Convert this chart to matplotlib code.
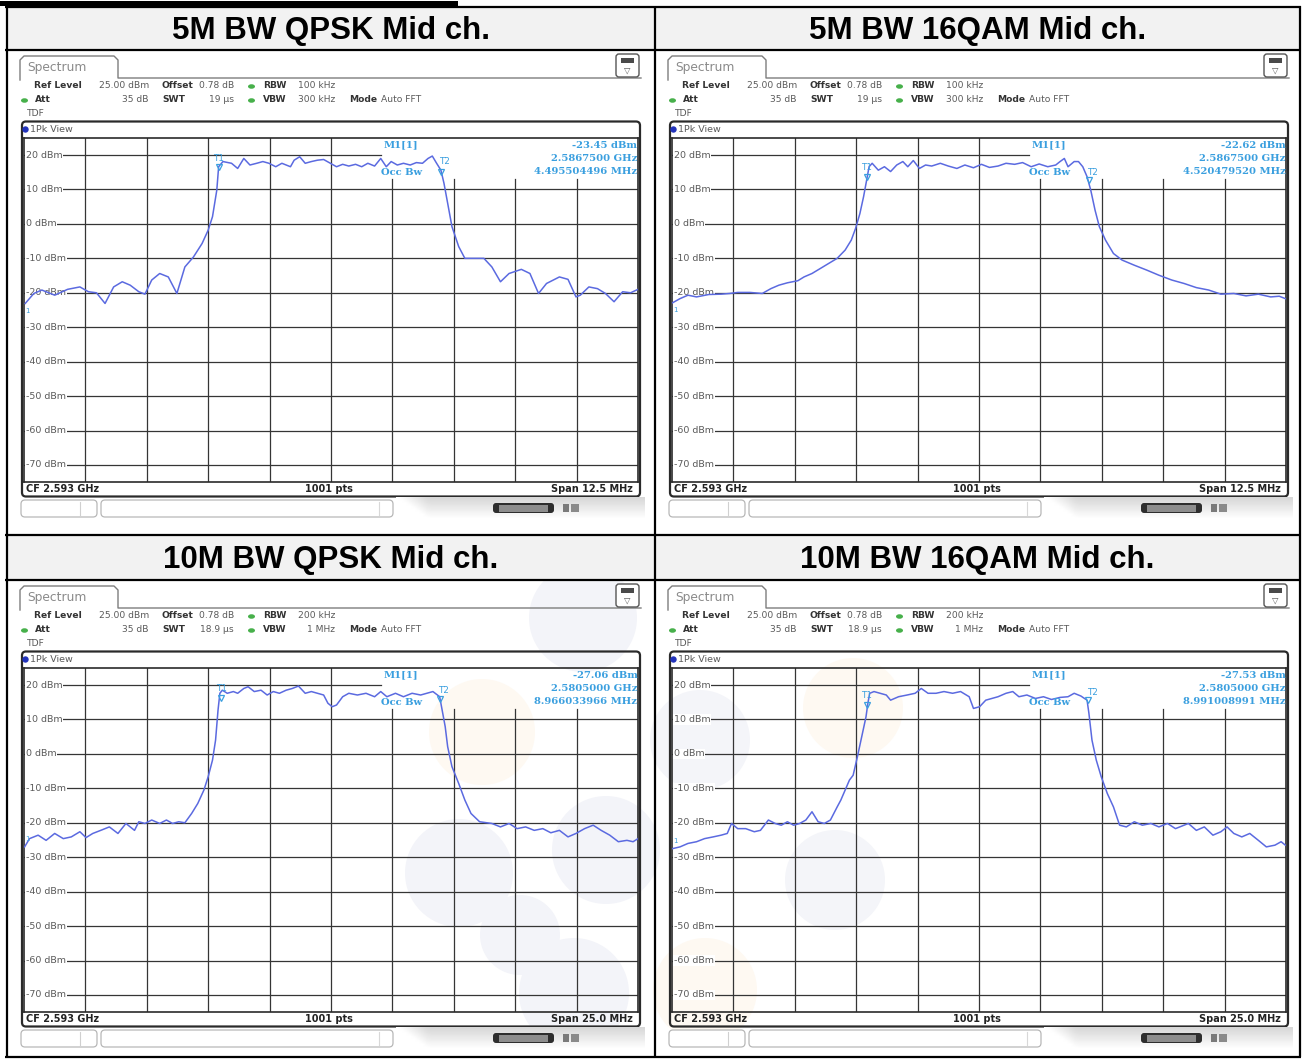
import matplotlib
matplotlib.use("Agg")
import matplotlib.pyplot as plt
from matplotlib.patches import FancyBboxPatch, Rectangle, Circle, Ellipse
import numpy as np

# ---------------- data ----------------
titles = ["5M BW QPSK Mid ch.", "5M BW 16QAM Mid ch.", "10M BW QPSK Mid ch.", "10M BW 16QAM Mid ch."]
rbw_labels = ["100 kHz", "100 kHz", "200 kHz", "200 kHz"]
vbw_labels = ["300 kHz", "300 kHz", "1 MHz", "1 MHz"]
swt_labels = ["19 µs", "19 µs", "18.9 µs", "18.9 µs"]
span_mhz = [12.5, 12.5, 25.0, 25.0]
span_labels = ["Span 12.5 MHz", "Span 12.5 MHz", "Span 25.0 MHz", "Span 25.0 MHz"]
m1_level = ["-23.45 dBm", "-22.62 dBm", "-27.06 dBm", "-27.53 dBm"]
m1_freq = ["2.5867500 GHz", "2.5867500 GHz", "2.5805000 GHz", "2.5805000 GHz"]
occ_bw = ["4.495504496 MHz", "4.520479520 MHz", "8.966033966 MHz", "8.991008991 MHz"]
cf_ghz = 2.593
y_levels = [20, 10, 0, -10, -20, -30, -40, -50, -60, -70]

# trace positions in grid divisions (0..10) and levels in dBm
div_5m_qpsk = [0.02,0.16,0.29,0.50,0.71,0.91,1.05,1.18,1.32,1.46,1.60,1.73,1.87,1.97,2.08,2.21,2.35,2.49,2.62,2.76,
               2.90,3.00,3.07,3.14,3.17,3.24,3.38,3.48,3.58,3.68,3.79,3.89,3.99,4.10,4.20,4.34,4.40,4.49,4.58,4.68,
               4.78,4.88,4.99,5.09,5.19,5.29,5.40,5.50,5.60,5.71,5.81,5.90,5.98,6.08,6.18,6.29,6.39,6.49,6.58,6.65,
               6.72,6.79,6.84,6.90,6.97,7.08,7.18,7.49,7.62,7.76,7.90,8.10,8.24,8.38,8.51,8.72,8.86,8.99,9.06,9.20,
               9.34,9.47,9.61,9.75,9.88,10.0]
dbm_5m_qpsk = [-23.1,-20.2,-19.2,-20.7,-19.0,-18.3,-19.7,-20.0,-23.1,-18.3,-16.8,-17.8,-19.7,-20.4,-16.3,-14.4,-15.4,-20.2,-12.5,-9.6,
               -5.7,-1.8,2.1,9.8,16.6,18.1,17.6,16.1,19.0,17.1,17.6,18.1,17.6,16.6,17.6,16.6,18.5,19.5,17.6,18.1,
               18.5,18.7,17.6,16.6,17.3,16.8,17.3,16.6,17.6,16.8,19.0,16.6,18.1,17.1,17.6,17.1,17.8,17.6,19.0,19.7,
               17.6,15.6,11.8,6.0,-0.8,-6.6,-10.0,-10.0,-12.5,-16.8,-14.4,-13.2,-14.4,-20.2,-17.3,-15.4,-16.1,-21.2,-20.7,-18.3,
               -18.8,-20.2,-22.6,-19.7,-20.0,-19.0]

div_5m_16qam = [0.01,0.13,0.26,0.40,0.60,0.80,0.94,1.07,1.27,1.47,1.61,1.74,1.88,2.05,2.15,2.28,2.42,2.55,2.69,2.82,
                2.92,2.99,3.06,3.12,3.17,3.21,3.26,3.36,3.46,3.56,3.66,3.76,3.84,3.93,4.03,4.13,4.23,4.37,4.50,4.64,
                4.77,4.91,5.04,5.17,5.31,5.44,5.58,5.71,5.85,5.98,6.12,6.25,6.32,6.39,6.45,6.55,6.62,6.69,6.76,6.82,
                6.89,6.96,7.06,7.19,7.33,7.53,7.73,7.93,8.14,8.34,8.54,8.74,8.94,9.15,9.35,9.55,9.75,9.89,9.99]
dbm_5m_16qam = [-22.9,-21.7,-20.7,-21.2,-20.5,-20.4,-20.2,-19.9,-19.9,-20.2,-18.8,-17.8,-17.1,-16.5,-15.4,-14.4,-12.9,-11.5,-10.0,-7.6,
                -4.7,-1.3,3.0,7.9,12.7,16.6,17.6,15.6,16.6,15.2,17.1,18.1,16.6,18.4,16.1,17.1,16.8,17.6,16.8,16.1,
                17.1,16.3,17.3,16.4,16.8,17.6,17.3,17.8,16.6,17.4,16.6,17.1,18.1,19.0,16.6,18.1,18.1,16.6,13.7,9.8,
                4.0,-0.8,-4.7,-8.6,-10.5,-12.0,-13.4,-14.9,-16.3,-17.3,-18.5,-19.2,-20.4,-20.2,-20.9,-20.4,-21.2,-21.0,-21.7]

div_10m_qpsk = [0.01,0.09,0.23,0.36,0.50,0.64,0.77,0.91,1.01,1.12,1.25,1.39,1.53,1.66,1.80,1.87,1.97,2.08,2.21,2.32,
                2.42,2.52,2.62,2.73,2.83,2.93,3.00,3.07,3.12,3.16,3.19,3.23,3.31,3.41,3.48,3.58,3.65,3.75,3.86,3.96,
                4.06,4.16,4.27,4.37,4.47,4.58,4.68,4.78,4.88,4.95,5.02,5.09,5.19,5.29,5.43,5.57,5.71,5.81,5.91,6.05,
                6.18,6.32,6.46,6.56,6.66,6.77,6.80,6.86,6.90,6.97,7.08,7.18,7.28,7.42,7.62,7.76,7.90,8.03,8.17,8.31,
                8.45,8.58,8.72,8.86,8.99,9.13,9.27,9.40,9.54,9.68,9.82,9.92,10.0]
dbm_10m_qpsk = [-27.0,-24.6,-23.6,-25.1,-23.1,-24.6,-24.1,-22.6,-24.3,-23.1,-22.2,-21.2,-23.1,-20.2,-22.2,-19.7,-20.2,-19.2,-20.2,-19.2,
                -20.2,-19.7,-20.0,-17.3,-14.4,-10.5,-6.6,-1.8,4.0,12.7,17.6,18.5,17.6,18.1,17.6,19.0,19.5,18.1,18.5,17.1,
                18.1,17.6,18.5,19.0,19.7,17.6,18.1,17.6,17.1,14.7,13.7,14.2,16.6,17.6,17.1,17.6,16.6,18.1,16.6,17.6,
                16.6,17.6,17.1,17.6,18.1,16.6,13.7,7.9,2.1,-3.7,-8.6,-13.4,-17.3,-19.7,-20.2,-21.2,-20.2,-21.7,-21.2,-22.2,
                -21.7,-22.9,-22.2,-24.1,-23.1,-21.7,-20.7,-22.2,-23.6,-25.5,-25.1,-25.5,-24.6]

div_10m_16qam = [0.01,0.13,0.26,0.40,0.53,0.67,0.80,0.90,0.97,1.07,1.20,1.34,1.44,1.57,1.68,1.78,1.88,1.98,2.08,2.18,
                 2.28,2.38,2.48,2.58,2.69,2.75,2.82,2.89,2.95,3.02,3.09,3.16,3.19,3.22,3.29,3.39,3.49,3.56,3.69,3.83,
                 3.96,4.06,4.17,4.30,4.43,4.57,4.70,4.84,4.91,5.01,5.11,5.21,5.31,5.44,5.55,5.65,5.78,5.92,6.05,6.18,
                 6.32,6.45,6.55,6.66,6.76,6.79,6.84,6.91,6.99,7.09,7.19,7.29,7.40,7.53,7.66,7.80,7.93,8.07,8.20,8.41,
                 8.54,8.67,8.81,8.94,9.04,9.15,9.28,9.41,9.55,9.68,9.82,9.92,9.99]
dbm_10m_16qam = [-27.5,-27.0,-26.0,-25.5,-24.6,-24.1,-23.6,-23.1,-20.2,-21.7,-21.7,-22.6,-22.2,-19.2,-20.2,-20.7,-19.7,-20.7,-20.2,-19.2,
                 -16.8,-19.7,-20.2,-19.2,-15.4,-13.4,-10.5,-7.6,-6.2,-0.8,5.0,10.8,14.7,17.6,18.1,17.6,17.1,15.6,16.6,17.1,
                 17.6,19.0,17.6,17.6,18.1,17.6,18.1,16.6,13.2,13.7,15.6,16.1,16.6,17.6,18.1,16.6,17.1,16.1,16.6,15.8,
                 16.4,16.6,17.6,16.8,15.6,11.8,4.0,-1.8,-6.6,-11.5,-15.4,-20.7,-21.2,-19.7,-20.7,-20.2,-21.2,-20.2,-21.7,-20.2,
                 -22.2,-21.2,-23.6,-22.6,-21.2,-23.1,-24.1,-23.1,-25.1,-27.0,-26.5,-25.5,-26.5]

trace_divs = [div_5m_qpsk, div_5m_16qam, div_10m_qpsk, div_10m_16qam]
trace_dbms = [dbm_5m_qpsk, dbm_5m_16qam, dbm_10m_qpsk, dbm_10m_16qam]

# occupied-bandwidth markers T1/T2 (divisions) and label/triangle levels (dBm)
t1_div = [3.17, 3.17, 3.21, 3.17]
t2_div = [6.79, 6.79, 6.77, 6.78]
t1_lab = [19.1, 16.5, 19.1, 17.1]
t1_tri = [16.5, 13.6, 16.2, 14.2]
t2_lab = [18.0, 15.0, 18.5, 17.9]
t2_tri = [15.1, 12.7, 15.9, 15.6]

# ---------------- styles ----------------
W, H = 1303, 1059
TRACE = "#5b6ae0"
MK = "#3a9fdf"
GRID = "#353535"
LBL = "#5a5a5a"
FS_INFO = 6.6

fig = plt.figure(figsize=(W / 100, H / 100), dpi=100)
fig.patch.set_facecolor("white")
ax0 = fig.add_axes([0, 0, 1, 1])
ax0.set_xlim(0, W)
ax0.set_ylim(H, 0)
ax0.axis("off")


def fig_rect(x0, y0, x1, y1):
    return [x0 / W, 1 - y1 / H, (x1 - x0) / W, (y1 - y0) / H]


def T(x, y, s, **kw):
    kw.setdefault("va", "center")
    kw.setdefault("ha", "left")
    kw.setdefault("fontsize", FS_INFO)
    kw.setdefault("color", LBL)
    ax0.text(x, y, s, **kw)


# faint watermark circles (bottom panels)
for (cx, cy, r, c) in [(583, 618, 54, "#f3f4f9"), (482, 732, 53, "#fef9f2"), (459, 873, 54, "#f3f4f9"),
                       (606, 850, 54, "#f3f4f9"), (574, 993, 55, "#f3f4f9"), (520, 935, 40, "#f3f4f9"),
                       (853, 708, 50, "#fef9f2"), (700, 740, 50, "#f4f5f9"), (835, 880, 50, "#f4f5f9"),
                       (705, 990, 52, "#fef9f2")]:
    ax0.add_patch(Circle((cx, cy), r, fc=c, ec="none", zorder=0.5))

# ---------------- table ----------------
ax0.add_patch(Rectangle((0, 0.5), 458, 5.5, fc="black", ec="none", zorder=5))
for (y0, y1) in [(7, 50), (535, 580)]:
    ax0.add_patch(Rectangle((6, y0), 1294, y1 - y0, fc="#f2f2f2", ec="none", zorder=0.6))
tl = dict(color="black", lw=1.6, zorder=5, solid_capstyle="butt")
ax0.plot([5, 1301], [6.8, 6.8], **tl)
ax0.plot([5, 1301], [50, 50], **tl)
ax0.plot([5, 1301], [535, 535], **tl)
ax0.plot([5, 1301], [580, 580], **tl)
ax0.plot([5, 1301], [1056.5, 1056.5], **tl)
ax0.plot([6.5, 6.5], [6, 1057], **tl)
ax0.plot([1300, 1300], [6, 1057], **tl)
ax0.plot([655, 655], [6, 1057], **tl)

for i, t in enumerate(titles):
    col, row = i % 2, i // 2
    cx = 330.5 if col == 0 else 977.5
    cy = 30.5 if row == 0 else 560
    ax0.text(cx, cy, t, ha="center", va="center", fontsize=22.5, fontweight="bold",
             family="Liberation Sans", color="black", zorder=6)

# ---------------- panels ----------------
GL, GR, GT, GB = 24, 638, 137.8, 482.2

for i in range(4):
    col, row = i % 2, i // 2
    ox, oy = 648 * col, 530 * row
    span = span_mhz[i]

    # Spectrum tab
    ax0.plot(np.array([20, 20, 24, 114, 118, 118, 641]) + ox,
             np.array([80, 60, 56, 56, 60, 78, 78]) + oy, color="#7d7d7d", lw=1.0, zorder=2)
    T(27 + ox, 67 + oy, "Spectrum", fontsize=8.8, color="#8a8a8a")
    # icon
    ax0.add_patch(FancyBboxPatch((616 + ox, 54 + oy), 23, 23, boxstyle="round,pad=0,rounding_size=3",
                                 fc="white", ec="#555555", lw=1.0, zorder=2))
    ax0.add_patch(Rectangle((621 + ox, 58 + oy), 13, 5, fc="#4a4a4a", ec="none", zorder=3))
    T(627.5 + ox, 70.5 + oy, "▽", ha="center", fontsize=6, color="#555555")

    # info lines
    T(34 + ox, 86 + oy, "Ref Level", fontweight="bold", color="#333333")
    T(149 + ox, 86 + oy, "25.00 dBm", ha="right")
    T(162 + ox, 86 + oy, "Offset", fontweight="bold", color="#333333")
    T(234 + ox, 86 + oy, "0.78 dB", ha="right")
    T(263 + ox, 86 + oy, "RBW", fontweight="bold", color="#333333")
    T(335 + ox, 86 + oy, rbw_labels[i], ha="right")
    T(35 + ox, 100 + oy, "Att", fontweight="bold", color="#333333")
    T(149 + ox, 100 + oy, "35 dB", ha="right")
    T(162 + ox, 100 + oy, "SWT", fontweight="bold", color="#333333")
    T(234 + ox, 100 + oy, swt_labels[i], ha="right")
    T(263 + ox, 100 + oy, "VBW", fontweight="bold", color="#333333")
    T(335 + ox, 100 + oy, vbw_labels[i], ha="right")
    T(349 + ox, 100 + oy, "Mode", fontweight="bold", color="#333333")
    T(381 + ox, 100 + oy, "Auto FFT")
    T(27 + ox, 113 + oy, "TDF")
    for (gx, gy) in [(251.5, 86.5), (251.5, 100.5), (24.5, 100.5)]:
        ax0.add_patch(Ellipse((gx + ox, gy + oy), 7, 4.5, fc="#47b04b", ec="none", zorder=3))

    # 1Pk View box
    ax0.add_patch(FancyBboxPatch((22 + ox, 121.5 + oy), 618, 375, boxstyle="round,pad=0,rounding_size=4",
                                 fc="none", ec="#2a2a2a", lw=1.6, zorder=1))
    ax0.add_patch(Circle((25.5 + ox, 129.5 + oy), 3.2, fc="#2233bb", ec="none", zorder=3))
    T(30 + ox, 129.5 + oy, "1Pk View", fontsize=6.8)
    T(26 + ox, 489.5 + oy, "CF 2.593 GHz", fontweight="bold", color="#222222", fontsize=7.0)
    T(329 + ox, 489.5 + oy, "1001 pts", ha="center", fontweight="bold", color="#222222", fontsize=7.0)
    T(633 + ox, 489.5 + oy, span_labels[i], ha="right", fontweight="bold", color="#222222", fontsize=7.0)

    # status bar
    ax0.add_patch(FancyBboxPatch((21 + ox, 500 + oy), 76, 17, boxstyle="round,pad=0,rounding_size=4",
                                 fc="white", ec="#b8b8b8", lw=0.9, zorder=2))
    ax0.plot([80 + ox, 80 + ox], [502 + oy, 515 + oy], color="#d0d0d0", lw=0.8, zorder=3)
    ax0.add_patch(FancyBboxPatch((101 + ox, 500 + oy), 292, 17, boxstyle="round,pad=0,rounding_size=4",
                                 fc="white", ec="#b8b8b8", lw=0.9, zorder=2))
    ax0.plot([379 + ox, 379 + ox], [502 + oy, 515 + oy], color="#d8d8d8", lw=0.8, zorder=3)
    gy_, gx_ = np.mgrid[0:1:20j, 0:1:60j]
    grad = 0.84 + 0.16 * gy_ + 0.16 * np.clip(1 - gx_ * 8, 0, 1)
    ax0.imshow(np.clip(grad, 0, 1), extent=(396 + ox, 645 + ox, 519 + oy, 497 + oy), cmap="gray",
               vmin=0, vmax=1, aspect="auto", zorder=1.5, interpolation="bilinear")
    ax0.add_patch(FancyBboxPatch((493 + ox, 503 + oy), 61, 10, boxstyle="round,pad=0,rounding_size=3",
                                 fc="#2e2e2e", ec="none", zorder=3))
    ax0.add_patch(Rectangle((499 + ox, 504.5 + oy), 49, 7, fc="#8d8d8d", ec="none", zorder=3.5))
    ax0.add_patch(Rectangle((563 + ox, 504 + oy), 6, 8, fc="#7a7a7a", ec="none", zorder=3))
    ax0.add_patch(Rectangle((571 + ox, 504 + oy), 8, 8, fc="#8a8a8a", ec="none", zorder=3))

    # ---------- plot grid area ----------
    ax = fig.add_axes(fig_rect(GL + ox, GT + oy, GR + ox, GB + oy))
    ax.set_facecolor("none")
    f0 = cf_ghz * 1000 - span / 2
    ax.set_xlim(f0, f0 + span)
    ax.set_ylim(-75, 25)
    ax.set_xticks([])
    ax.set_yticks([])
    for s in ax.spines.values():
        s.set_color("#2a2a2a")
        s.set_linewidth(1.2)
    for k in range(1, 10):
        ytop = 1.0 if k <= 5 else (13.0 + 75) / 100
        ax.axvline(f0 + k * span / 10, ymin=0, ymax=ytop, color=GRID, lw=0.9, zorder=1)
    for lvl in y_levels:
        xm = 0.581 if lvl == 20 else 1.0
        ax.axhline(lvl, xmin=0, xmax=xm, color=GRID, lw=0.9, zorder=1)
        ax.text(0.0035, lvl, f"{lvl} dBm", transform=ax.get_yaxis_transform(), ha="left", va="center",
                fontsize=6.8, color=LBL, zorder=2,
                bbox=dict(fc="white", ec="none", pad=0.5))

    fx = f0 + np.array(trace_divs[i]) * span / 10
    ax.plot(fx, trace_dbms[i], color=TRACE, lw=1.1, zorder=4)

    # markers
    xt1 = f0 + t1_div[i] * span / 10
    xt2 = f0 + t2_div[i] * span / 10
    ax.text(xt1, t1_lab[i], "T1", ha="center", va="center", fontsize=6.3, color=MK, zorder=5)
    ax.text(xt2 + span * 0.006, t2_lab[i], "T2", ha="center", va="center", fontsize=6.3, color=MK, zorder=5)
    ax.plot([xt1], [t1_tri[i]], marker="v", ms=4, mfc="none", mec=MK, mew=0.9, zorder=5)
    ax.plot([xt2], [t2_tri[i]], marker="v", ms=4, mfc="none", mec=MK, mew=0.9, zorder=5)
    start = trace_dbms[i][0]
    m1_y = start - 2.2 if start > -25 else start + 2.2
    ax.text(0.002, m1_y, "1", transform=ax.get_yaxis_transform(), fontsize=5,
            color=MK, ha="left", va="center", zorder=5)

    mk = dict(fontsize=7.2, fontweight="bold", family="DejaVu Serif", color=MK, va="center", zorder=5)
    ax.text(0.585, 22.9, "M1[1]", transform=ax.get_yaxis_transform(), ha="left", **mk)
    ax.text(0.581, 14.8, "Occ Bw", transform=ax.get_yaxis_transform(), ha="left", **mk)
    ax.text(0.999, 22.9, m1_level[i], transform=ax.get_yaxis_transform(), ha="right", **mk)
    ax.text(0.999, 19.1, m1_freq[i], transform=ax.get_yaxis_transform(), ha="right", **mk)
    ax.text(0.999, 15.1, occ_bw[i], transform=ax.get_yaxis_transform(), ha="right", **mk)

ax0.set_xlim(0, W)
ax0.set_ylim(H, 0)
fig.savefig("out.png", dpi=100, facecolor="white")
